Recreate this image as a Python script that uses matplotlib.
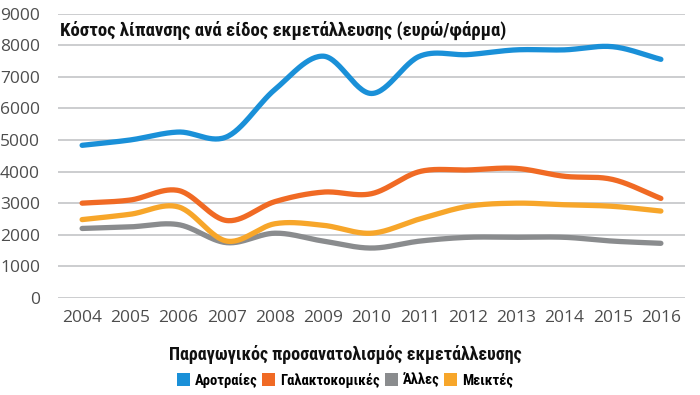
import numpy as np
import matplotlib
matplotlib.use("Agg")
import matplotlib.pyplot as plt
from matplotlib.patches import Patch
from matplotlib import font_manager as fm

years = ["2004", "2005", "2006", "2007", "2008", "2009", "2010",
         "2011", "2012", "2013", "2014", "2015", "2016"]
arotraies = [4830, 5000, 5250, 5100, 6600, 7650, 6470, 7650, 7700, 7850, 7850, 7950, 7550]
galaktokomikes = [3000, 3100, 3400, 2450, 3050, 3350, 3300, 4000, 4050, 4100, 3850, 3750, 3150]
alles = [2200, 2250, 2320, 1750, 2050, 1800, 1580, 1800, 1920, 1920, 1920, 1800, 1730]
meiktes = [2480, 2650, 2880, 1800, 2350, 2300, 2050, 2500, 2900, 3000, 2950, 2900, 2750]
series_names = ["Αροτραίες", "Γαλακτοκομικές", "Άλλες", "Μεικτές"]
colors = ["#1a90d8", "#f06a24", "#8a8c8e", "#f7a62a"]
title = "Κόστος λίπανσης ανά είδος εκμετάλλευσης (ευρώ/φάρμα)"
xlabel = "Παραγωγικός προσανατολισμός εκμετάλλευσης"

avail = {f.name for f in fm.fontManager.ttflist}
cond = [f for f in ["Liberation Sans Narrow", "Roboto Condensed", "Open Sans Condensed"] if f in avail]
bold_family = (cond + ["Roboto", "DejaVu Sans"]) if cond else ["Roboto", "DejaVu Sans"]
tick_family = ["Open Sans", "DejaVu Sans"]


def smooth(xs, ys, n=30):
    # Catmull-Rom rendering of the line through the data points
    xs = np.asarray(xs, float); ys = np.asarray(ys, float)
    px = np.concatenate([[2 * xs[0] - xs[1]], xs, [2 * xs[-1] - xs[-2]]])
    py = np.concatenate([[2 * ys[0] - ys[1]], ys, [2 * ys[-1] - ys[-2]]])
    outx, outy = [], []
    t = np.linspace(0, 1, n, endpoint=False)
    for i in range(1, len(px) - 2):
        for arr, out in ((px, outx), (py, outy)):
            p0, p1, p2, p3 = arr[i - 1], arr[i], arr[i + 1], arr[i + 2]
            out.extend(0.5 * ((2 * p1) + (-p0 + p2) * t +
                              (2 * p0 - 5 * p1 + 4 * p2 - p3) * t ** 2 +
                              (-p0 + 3 * p1 - 3 * p2 + p3) * t ** 3))
    outx.append(xs[-1]); outy.append(ys[-1])
    return np.array(outx), np.array(outy)


fig = plt.figure(figsize=(7, 3.95), dpi=100)
ax = fig.add_axes([58 / 700, 1 - 298 / 395, (685 - 58) / 700, (298 - 13.5) / 395])
x = np.arange(len(years))
for vals, c in zip([arotraies, galaktokomikes, alles, meiktes], colors):
    sx, sy = smooth(x, vals)
    ax.plot(sx, sy, color=c, lw=3.8, solid_capstyle="round", zorder=3)

ax.set_xlim(-0.5, len(years) - 0.5)
ax.set_ylim(0, 9000)
ax.set_yticks(np.arange(0, 9001, 1000))
ax.set_xticks(x)
ax.set_xticklabels(years)
ax.grid(axis="y", color="#c8c9cb", lw=1.3)
ax.set_axisbelow(True)
for s in ax.spines.values():
    s.set_visible(False)
ax.tick_params(length=0, labelsize=12.5, labelcolor="#4d4d4d")
ax.tick_params(axis="x", pad=9)
ax.tick_params(axis="y", pad=13)
for lab in ax.get_xticklabels() + ax.get_yticklabels():
    lab.set_family(tick_family)

fig.text(60 / 700, 1 - 30 / 395, title, fontsize=13.5, fontweight="bold",
         family=bold_family, va="center", ha="left", color="#111111")
fig.text(345 / 700, 1 - 355 / 395, xlabel, fontsize=13, fontweight="bold",
         family=bold_family, va="center", ha="center", color="#111111")

handles = [Patch(facecolor=c, edgecolor="none") for c in colors]
leg = fig.legend(handles, series_names, loc="center", bbox_to_anchor=(345 / 700, 1 - 380 / 395),
                 ncol=4, frameon=False, handlelength=0.9, handleheight=0.9,
                 handletextpad=0.35, columnspacing=0.3,
                 prop=fm.FontProperties(family=bold_family, weight="bold", size=10.5))

fig.savefig("out.png", dpi=100)
